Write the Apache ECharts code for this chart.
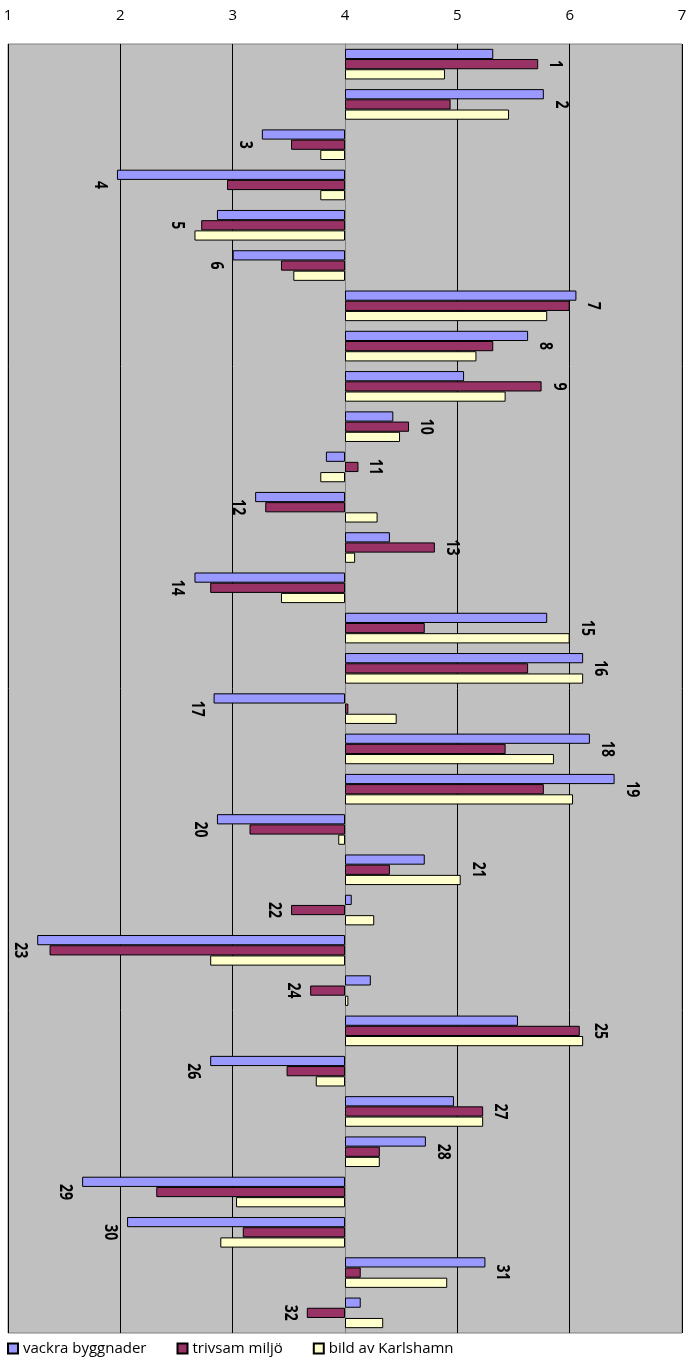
<!DOCTYPE html>
<html>
<head>
<meta charset="utf-8">
<script src="https://cdn.jsdelivr.net/npm/echarts@6/dist/echarts.min.js"></script>
<style>html,body{margin:0;padding:0;background:#fff}#c{width:690px;height:1362px}</style>
</head>
<body>
<div id="c"></div>
<script>
const categories = ['1','2','3','4','5','6','7','8','9','10','11','12','13','14','15','16','17','18','19','20','21','22','23','24','25','26','27','28','29','30','31','32'];
const vackraByggnader = [5.32,5.77,3.26,1.97,2.86,3.00,6.06,5.63,5.06,4.43,3.83,3.20,4.40,2.66,5.80,6.12,2.83,6.18,6.40,2.86,4.71,4.06,1.26,4.23,5.54,2.80,4.97,4.72,1.66,2.06,5.25,4.14];
const trivsamMiljo    = [5.72,4.94,3.52,2.95,2.72,3.43,6.00,5.32,5.75,4.57,4.12,3.29,4.80,2.80,4.71,5.63,4.03,5.43,5.77,3.15,4.40,3.52,1.37,3.69,6.09,3.48,5.23,4.31,2.32,3.09,4.14,3.66];
const bildAvKarlshamn = [4.89,5.46,3.78,3.78,2.66,3.54,5.80,5.17,5.43,4.49,3.78,4.29,4.09,3.43,6.00,6.12,4.46,5.86,6.03,3.94,5.03,4.26,2.80,4.03,6.12,3.74,5.23,4.31,3.03,2.89,4.91,4.34];
const tickLabels = ['1','2','3','4','5','6','7'];
const seriesNames = ['vackra byggnader','trivsam miljö','bild av Karlshamn'];
const baseline = 4;

const dev = a => a.map(v => +(v - baseline).toFixed(3));
const labelData = categories.map((c, i) => {
  const d = [vackraByggnader[i], trivsamMiljo[i], bildAvKarlshamn[i]].map(v => v - baseline);
  const right = trivsamMiljo[i] - baseline > 0.05;
  const v = right ? Math.max(0, ...d) : Math.min(0, ...d);
  return [v, i, right ? 1 : -1];
});

const colors = ['#9999FF','#993366','#FFFFCC'];
const mk = (name, data, color) => ({
  name, type: 'bar', data: dev(data), barGap: '0%', barCategoryGap: '24%',
  itemStyle: { color, borderColor: '#000', borderWidth: 1 },
  emphasis: { disabled: true }, animation: false
});

const chart = echarts.init(document.getElementById('c'));
chart.setOption({
  animation: false,
  grid: { left: 8, right: 8, top: 44, bottom: 29, show: true, backgroundColor: '#C0C0C0', borderColor: '#808080', borderWidth: 1 },
  legend: {
    data: seriesNames, left: 2, bottom: 1, itemWidth: 10, itemHeight: 10, itemGap: 30, icon: 'rect',
    textStyle: { fontFamily: 'Open Sans', fontSize: 15, color: '#000' }
  },
  xAxis: {
    type: 'value', position: 'top', min: -3, max: 3, interval: 1,
    axisLine: { show: false }, axisTick: { show: false },
    axisLabel: { margin: 21, fontFamily: 'Open Sans', fontSize: 15, color: '#000', formatter: v => tickLabels[v + 3] },
    splitLine: { show: true, lineStyle: { color: '#000', width: 1 } }
  },
  yAxis: {
    type: 'category', data: categories, inverse: true,
    axisLine: { show: true, onZero: true, lineStyle: { color: '#808080', width: 1 } },
    axisTick: { show: false }, axisLabel: { show: false }, splitLine: { show: false }
  },
  series: [
    mk(seriesNames[0], vackraByggnader, colors[0]),
    mk(seriesNames[1], trivsamMiljo, colors[1]),
    mk(seriesNames[2], bildAvKarlshamn, colors[2]),
    {
      type: 'custom', data: labelData, encode: { x: 0, y: 1 }, silent: true, z: 5,
      renderItem: (params, api) => {
        const p = api.coord([api.value(0), api.value(1)]);
        const side = api.value(2);
        return {
          type: 'text', x: p[0] + side * 17, y: p[1], rotation: -Math.PI / 2, scaleX: 1, scaleY: 1.25,
          style: { text: categories[api.value(1)], font: 'bold 14px "Open Sans"', align: 'center', verticalAlign: 'middle', fill: '#000' }
        };
      }
    }
  ]
});
</script>
</body>
</html>
